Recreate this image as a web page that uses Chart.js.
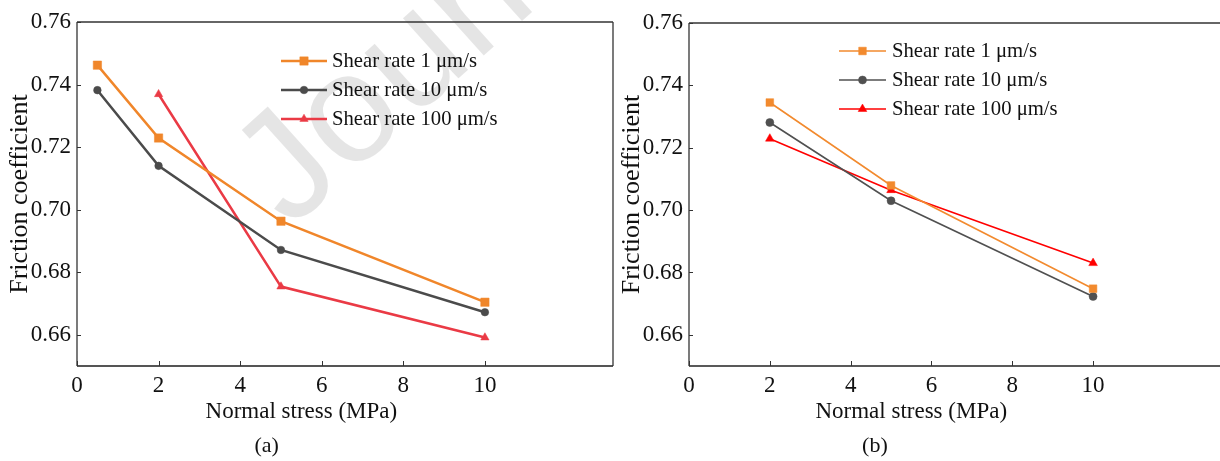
<!DOCTYPE html>
<html>
<head>
<meta charset="utf-8">
<script src="https://cdn.jsdelivr.net/npm/chart.js@4.4.0/dist/chart.umd.min.js"></script>
<style>
  html, body { margin: 0; padding: 0; background: #fff; overflow: hidden; }
  body { width: 1220px; height: 461px; position: relative; }
  .panel { position: absolute; top: 0; }
</style>
</head>
<body>
<canvas id="chartA" class="panel" width="620" height="461" style="left:0"></canvas>
<canvas id="chartB" class="panel" width="620" height="461" style="left:612px"></canvas>
<script>
const xTicks = [0, 2, 4, 6, 8, 10];
const yTicks = [0.66, 0.68, 0.70, 0.72, 0.74, 0.76];
const seriesLabels = ['Shear rate 1 μm/s', 'Shear rate 10 μm/s', 'Shear rate 100 μm/s'];

// panel (a)
const stressA = [0.5, 2, 5, 10];
const stressA100 = [2, 5, 10];
const frictionA1 = [0.7462, 0.7229, 0.6963, 0.6704];
const frictionA10 = [0.7382, 0.7140, 0.6871, 0.6672];
const frictionA100 = [0.7369, 0.6754, 0.6591];

// panel (b)
const stressB = [2, 5, 10];
const frictionB1 = [0.7345, 0.7079, 0.6748];
const frictionB10 = [0.7281, 0.7030, 0.6723];
const frictionB100 = [0.7229, 0.7064, 0.6830];

const SERIF = '"Liberation Serif", "Times New Roman", serif';

const pairs = (xs, ys) => xs.map((x, i) => ({ x: x, y: ys[i] }));

const makeSet = (label, data, color, style, radius, width) => ({
    label: label,
    data: data,
    borderColor: color,
    backgroundColor: color,
    borderWidth: width,
    pointStyle: style,
    pointRadius: radius,
    pointHoverRadius: radius,
    pointBorderWidth: 0.5,
    pointBorderColor: color,
    pointBackgroundColor: color,
    tension: 0
});

const drawMarker = (ctx, ds, x, y) => {
    ctx.save();
    ctx.fillStyle = ds.backgroundColor;
    ctx.strokeStyle = ds.borderColor;
    ctx.lineWidth = ds.pointBorderWidth;
    Chart.helpers.drawPoint(ctx, {
        pointStyle: ds.pointStyle,
        radius: ds.pointRadius,
        rotation: 0,
        borderWidth: ds.pointBorderWidth
    }, x, y);
    ctx.restore();
};

const strokeLine = (ctx, x1, y1, x2, y2, color, width) => {
    ctx.save();
    ctx.strokeStyle = color;
    ctx.lineWidth = width;
    ctx.beginPath();
    ctx.moveTo(x1, y1);
    ctx.lineTo(x2, y2);
    ctx.stroke();
    ctx.restore();
};

// frame, inward ticks, titles, legend and caption
const figurePlugin = {
    id: 'figure',
    beforeDatasetsDraw(chart, args, opts) {
        const ctx = chart.ctx;
        const area = chart.chartArea;
        const xs = chart.scales.x, ys = chart.scales.y;

        if (opts.watermark) {
            ctx.save();
            ctx.translate(opts.watermark.x, opts.watermark.y);
            ctx.rotate(opts.watermark.angle * Math.PI / 180);
            ctx.fillStyle = 'rgba(0,0,0,0.1)';
            ctx.font = opts.watermark.size + 'px "Liberation Sans", Arial, sans-serif';
            ctx.textBaseline = 'alphabetic';
            ctx.fillText(opts.watermark.text, 0, 0);
            ctx.restore();
        }

        // box: (b) is cut by the page edge, so its right side is left open
        const right = opts.openRight ? chart.width : area.right;
        strokeLine(ctx, area.left, area.top, right, area.top, '#333', 1.3);
        strokeLine(ctx, area.left, area.top, area.left, area.bottom, '#222', 1.2);
        strokeLine(ctx, area.left, area.bottom, right, area.bottom, opts.bottomColor, opts.bottomWidth);
        if (!opts.openRight) {
            strokeLine(ctx, area.right, area.top, area.right, area.bottom, '#333', 1.3);
        }

        ctx.save();
        ctx.strokeStyle = '#333';
        ctx.lineWidth = 1;
        ctx.beginPath();
        xTicks.forEach(v => {
            const px = Math.round(xs.getPixelForValue(v)) + 0.5;
            ctx.moveTo(px, area.bottom);
            ctx.lineTo(px, area.bottom - 5);
        });
        yTicks.forEach(v => {
            const py = Math.round(ys.getPixelForValue(v)) + 0.5;
            ctx.moveTo(area.left, py);
            ctx.lineTo(area.left + 4, py);
        });
        ctx.stroke();
        ctx.restore();
    },
    afterDraw(chart, args, opts) {
        const ctx = chart.ctx;
        const area = chart.chartArea;
        const xs = chart.scales.x;

        ctx.save();
        ctx.fillStyle = '#111';
        ctx.textBaseline = 'alphabetic';
        ctx.textAlign = 'center';
        ctx.font = '23px ' + SERIF;
        ctx.fillText(opts.xTitle, xs.getPixelForValue(opts.xTitleAt), opts.xTitleY);
        ctx.font = '22px ' + SERIF;
        ctx.fillText(opts.caption, xs.getPixelForValue(opts.captionAt), opts.captionY);

        ctx.save();
        ctx.font = '26px ' + SERIF;
        ctx.translate(opts.yTitleX, (area.top + area.bottom) / 2);
        ctx.rotate(-Math.PI / 2);
        ctx.fillText(opts.yTitle, 0, 0);
        ctx.restore();

        // legend: line sample with marker, then label
        const lg = opts.legend;
        ctx.font = '20.7px ' + SERIF;
        ctx.textAlign = 'left';
        ctx.textBaseline = 'middle';
        chart.data.datasets.forEach((ds, i) => {
            const y = area.top + lg.y + i * lg.gap;
            const x0 = area.left + lg.x;
            strokeLine(ctx, x0, y, x0 + lg.line, y, ds.borderColor, ds.borderWidth);
            drawMarker(ctx, ds, x0 + lg.line / 2, y);
            ctx.fillStyle = '#111';
            ctx.fillText(ds.label, x0 + lg.line + lg.textGap, y + 1);
        });
        ctx.restore();
    }
};

const makeOptions = (xMax, padding, fig) => ({
    responsive: false,
    animation: false,
    devicePixelRatio: 1,
    layout: { padding: padding },
    plugins: {
        legend: { display: false },
        tooltip: { enabled: false },
        figure: fig
    },
    scales: {
        x: {
            type: 'linear',
            min: 0,
            max: xMax,
            afterBuildTicks: scale => { scale.ticks = xTicks.map(v => ({ value: v })); },
            afterFit: scale => { scale.height = 95; },
            grid: { display: false, drawTicks: false },
            border: { display: false },
            ticks: {
                padding: 6,
                maxRotation: 0,
                autoSkip: false,
                color: '#111',
                font: { family: SERIF, size: 23 },
                callback: v => String(v)
            }
        },
        y: {
            type: 'linear',
            min: 0.65,
            max: 0.76,
            afterBuildTicks: scale => { scale.ticks = yTicks.map(v => ({ value: v })); },
            afterFit: scale => { scale.width = 77; },
            grid: { display: false, drawTicks: false },
            border: { display: false },
            ticks: {
                padding: 6,
                autoSkip: false,
                color: '#111',
                font: { family: SERIF, size: 23 },
                callback: v => v.toFixed(2)
            }
        }
    }
});

new Chart(document.getElementById('chartA'), {
    type: 'line',
    data: {
        datasets: [
            makeSet(seriesLabels[0], pairs(stressA, frictionA1), '#f0862a', 'rect', 5.9, 2.5),
            makeSet(seriesLabels[1], pairs(stressA, frictionA10), '#4b4b4b', 'circle', 3.8, 2.5),
            makeSet(seriesLabels[2], pairs(stressA100, frictionA100), '#ea3a45', 'triangle', 4.8, 2.5)
        ]
    },
    options: makeOptions(13.14, { left: 0, top: 22, right: 7, bottom: 0 }, {
        xTitle: 'Normal stress (MPa)', xTitleAt: 5.5, xTitleY: 418,
        yTitle: 'Friction coefficient', yTitleX: 27,
        caption: '(a)', captionAt: 4.65, captionY: 452,
        bottomColor: '#555', bottomWidth: 2,
        legend: { x: 204, y: 39, gap: 29, line: 46, textGap: 5 },
        watermark: { text: 'Journal Pre-proof', x: 290, y: 230, angle: -42, size: 155 }
    }),
    plugins: [figurePlugin]
});

new Chart(document.getElementById('chartB'), {
    type: 'line',
    data: {
        datasets: [
            makeSet(seriesLabels[0], pairs(stressB, frictionB1), '#f28a2e', 'rect', 5.4, 1.6),
            makeSet(seriesLabels[1], pairs(stressB, frictionB10), '#505050', 'circle', 4, 1.6),
            makeSet(seriesLabels[2], pairs(stressB, frictionB100), '#ff0000', 'triangle', 5, 1.6)
        ]
    },
    options: makeOptions(13.24, { left: 0, top: 23, right: 8, bottom: 0 }, {
        xTitle: 'Normal stress (MPa)', xTitleAt: 5.5, xTitleY: 418,
        yTitle: 'Friction coefficient', yTitleX: 27,
        caption: '(b)', captionAt: 4.6, captionY: 452,
        bottomColor: '#222', bottomWidth: 1.3, openRight: true,
        legend: { x: 150, y: 28, gap: 29, line: 47, textGap: 6 }
    }),
    plugins: [figurePlugin]
});
</script>
</body>
</html>
